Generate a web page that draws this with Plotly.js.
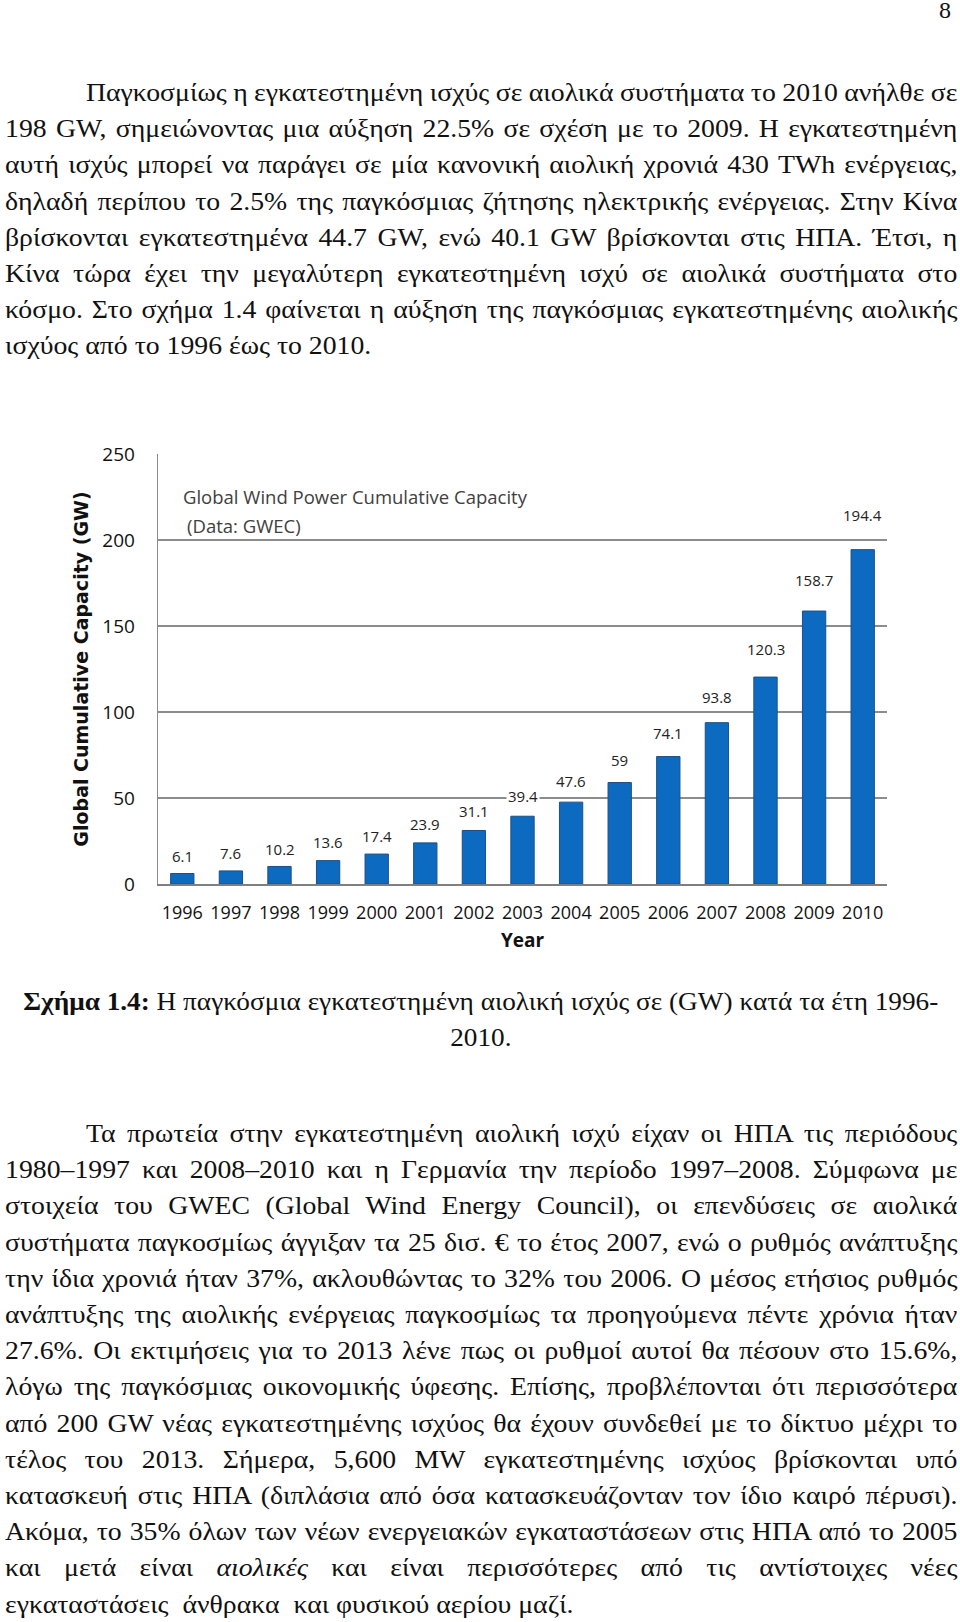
<!DOCTYPE html>
<html>
<head>
<meta charset="utf-8">
<script src="https://cdn.plot.ly/plotly-3.0.1.min.js"></script>
<style>
  html, body { margin: 0; padding: 0; background: #fff; }
  body { width: 960px; height: 1622px; position: relative; overflow: hidden;
         font-family: "Liberation Serif", "Times New Roman", serif; color: #111; }
  .txt { position: absolute; left: 5px; width: 858px; font-size: 25px; line-height: 36.2px;
         transform: scaleX(1.11); transform-origin: 0 0; }
  .ln { text-align: justify; text-align-last: justify; white-space: nowrap; overflow: visible; }
  .ln.last { text-align-last: left; }
  .ind { padding-left: 73px; }
  #pg { position: absolute; left: 939px; top: -8px; font-size: 24px; line-height: 36.2px; }
  #cap { position: absolute; left: 23px; width: 840px; top: 984px; font-size: 25px; line-height: 35.5px;
         text-align: center; transform: scaleX(1.09); transform-origin: 0 0; white-space: nowrap; }
  #chart { position: absolute; left: 0; top: 420px; width: 960px; height: 540px; }
</style>
</head>
<body>
<div id="pg">8</div>

<div class="txt" id="p1" style="top:75px">
  <div class="ln ind">Παγκοσμίως η εγκατεστημένη ισχύς σε αιολικά συστήματα το 2010 ανήλθε σε</div>
  <div class="ln">198 GW, σημειώνοντας μια αύξηση 22.5% σε σχέση με το 2009. Η εγκατεστημένη</div>
  <div class="ln">αυτή ισχύς μπορεί να παράγει σε μία κανονική αιολική χρονιά 430 TWh ενέργειας,</div>
  <div class="ln">δηλαδή περίπου το 2.5% της παγκόσμιας ζήτησης ηλεκτρικής ενέργειας. Στην Κίνα</div>
  <div class="ln">βρίσκονται εγκατεστημένα 44.7 GW, ενώ 40.1 GW βρίσκονται στις ΗΠΑ. Έτσι, η</div>
  <div class="ln">Κίνα τώρα έχει την μεγαλύτερη εγκατεστημένη ισχύ σε αιολικά συστήματα στο</div>
  <div class="ln">κόσμο. Στο σχήμα 1.4 φαίνεται η αύξηση της παγκόσμιας εγκατεστημένης αιολικής</div>
  <div class="ln last">ισχύος από το 1996 έως το 2010.</div>
</div>

<div id="chart"></div>

<div id="cap"><b>Σχήμα 1.4:</b> Η παγκόσμια εγκατεστημένη αιολική ισχύς σε (GW) κατά τα έτη 1996-<br>2010.</div>

<div class="txt" id="p2" style="top:1116px">
  <div class="ln ind">Τα πρωτεία στην εγκατεστημένη αιολική ισχύ είχαν οι ΗΠΑ τις περιόδους</div>
  <div class="ln">1980–1997 και 2008–2010 και η Γερμανία την περίοδο 1997–2008. Σύμφωνα με</div>
  <div class="ln">στοιχεία του GWEC (Global Wind Energy Council), οι επενδύσεις σε αιολικά</div>
  <div class="ln">συστήματα παγκοσμίως άγγιξαν τα 25 δισ. € το έτος 2007, ενώ ο ρυθμός ανάπτυξης</div>
  <div class="ln">την ίδια χρονιά ήταν 37%, ακλουθώντας το 32% του 2006. Ο μέσος ετήσιος ρυθμός</div>
  <div class="ln">ανάπτυξης της αιολικής ενέργειας παγκοσμίως τα προηγούμενα πέντε χρόνια ήταν</div>
  <div class="ln">27.6%. Οι εκτιμήσεις για το 2013 λένε πως οι ρυθμοί αυτοί θα πέσουν στο 15.6%,</div>
  <div class="ln">λόγω της παγκόσμιας οικονομικής ύφεσης. Επίσης, προβλέπονται ότι περισσότερα</div>
  <div class="ln">από 200 GW νέας εγκατεστημένης ισχύος θα έχουν συνδεθεί με το δίκτυο μέχρι το</div>
  <div class="ln">τέλος του 2013. Σήμερα, 5,600 MW εγκατεστημένης ισχύος βρίσκονται υπό</div>
  <div class="ln">κατασκευή στις ΗΠΑ (διπλάσια από όσα κατασκευάζονταν τον ίδιο καιρό πέρυσι).</div>
  <div class="ln">Ακόμα, το 35% όλων των νέων ενεργειακών εγκαταστάσεων στις ΗΠΑ από το 2005</div>
  <div class="ln">και μετά είναι <i>αιολικές</i> και είναι περισσότερες από τις αντίστοιχες νέες</div>
  <div class="ln last">εγκαταστάσεις&nbsp; άνθρακα&nbsp; και φυσικού αερίου μαζί.</div>
</div>

<script>
// fit justified lines that would overflow by tightening word spacing
function fitLines() {
  document.querySelectorAll('.ln').forEach(el => {
    el.style.wordSpacing = '0px';
    const over = el.scrollWidth - el.clientWidth;
    if (over > 0) {
      const spaces = (el.textContent.trim().match(/\s+/g) || []).length || 1;
      el.style.wordSpacing = (-(over + 1) / spaces).toFixed(2) + 'px';
    }
  });
}
fitLines();
if (document.fonts && document.fonts.ready) document.fonts.ready.then(fitLines);

// ---- data ----
const years = ["1996","1997","1998","1999","2000","2001","2002","2003","2004","2005","2006","2007","2008","2009","2010"];
const capacityGW = [6.1, 7.6, 10.2, 13.6, 17.4, 23.9, 31.1, 39.4, 47.6, 59, 74.1, 93.8, 120.3, 158.7, 194.4];
const yTicks = [0, 50, 100, 150, 200, 250];
const chartTitleLines = ["Global Wind Power Cumulative Capacity", "(Data: GWEC)"];
const xTitle = "Year";
const yTitle = "Global Cumulative Capacity (GW)";

const chartFont = '"Open Sans", "DejaVu Sans", sans-serif';

const trace = {
  type: 'bar',
  x: years,
  y: capacityGW,
  marker: { color: '#0C6BC0', line: { color: '#1D4F86', width: 1 } },
  hoverinfo: 'skip'
};

// value labels placed through the category axis (by category index)
const valueLabels = years.map((yr, i) => ({
  x: i, y: capacityGW[i], xref: 'x', yref: 'y',
  text: String(capacityGW[i]), showarrow: false,
  yanchor: 'bottom', yshift: 5 + 0.09 * capacityGW[i],
  bgcolor: '#ffffff', borderpad: 1,
  font: { family: chartFont, size: 15, color: '#222' }
}));

const layout = {
  width: 960, height: 540,
  margin: { l: 158, r: 73, t: 34, b: 76 },
  paper_bgcolor: 'rgba(0,0,0,0)', plot_bgcolor: 'rgba(0,0,0,0)',
  showlegend: false,
  bargap: 0.52,
  font: { family: chartFont, color: '#222' },
  xaxis: {
    type: 'category', categoryarray: years, range: [-0.5, years.length - 0.5],
    autorange: false,
    showgrid: false, showline: true, linecolor: '#7f7f7f', linewidth: 2,
    ticks: '', tickfont: { family: chartFont, size: 18, color: '#111' },
    ticklabelstandoff: 11,
    title: { text: xTitle, font: { family: chartFont, size: 19, color: '#111', weight: 'bold' }, standoff: 11 }
  },
  yaxis: {
    range: [0, 250], autorange: false, tickvals: yTicks, ticks: '',
    showgrid: true, gridcolor: '#8c8c8c', gridwidth: 1.3,
    zeroline: false, showline: true, linecolor: '#8c8c8c', linewidth: 1.3,
    tickfont: { family: chartFont, size: 19, color: '#111' },
    ticklabelstandoff: 18,
    title: { text: yTitle, font: { family: '"DejaVu Sans", Verdana, sans-serif', size: 19, color: '#111', weight: 'bold' }, standoff: 8 }
  },
  annotations: [
    { xref: 'paper', yref: 'paper', x: 0.031, y: 0.901, xanchor: 'left', yanchor: 'middle',
      text: chartTitleLines[0], showarrow: false,
      font: { family: chartFont, size: 18.5, color: '#404040' } },
    { xref: 'paper', yref: 'paper', x: 0.037, y: 0.833, xanchor: 'left', yanchor: 'middle',
      text: chartTitleLines[1], showarrow: false,
      font: { family: chartFont, size: 18.5, color: '#404040' } }
  ].concat(valueLabels)
};

Plotly.newPlot('chart', [trace], layout, { staticPlot: true, displayModeBar: false });
</script>
</body>
</html>
